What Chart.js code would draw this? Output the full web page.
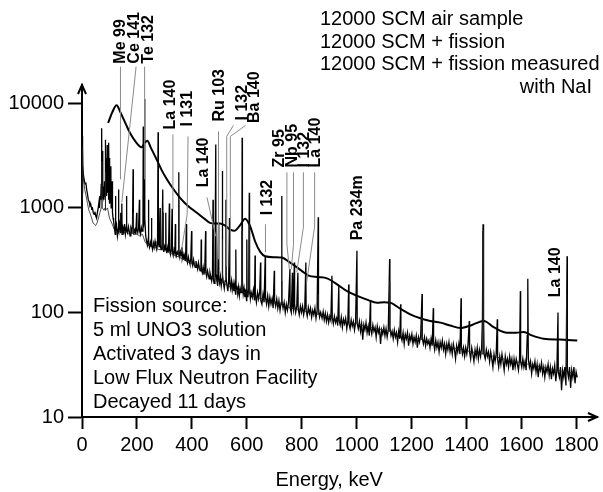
<!DOCTYPE html>
<html>
<head>
<meta charset="utf-8">
<script src="https://cdn.jsdelivr.net/npm/chart.js@4.4.1/dist/chart.umd.min.js"></script>
<style>
  body { margin: 0; background: #fff; }
  canvas { display: block; }
</style>
</head>
<body>
<canvas id="spectrumChart" width="603" height="492"></canvas>
<script>
// Gamma spectra, [energy keV, counts]
const airSample = [
    [0,1200],[2,3800],[5,1900],[10,1500],[15,1300],[20,1100],[25,950],[30,880],[35,800],[40,720],[45,700],[50,680],
    [55,720],[60,800],[65,900],[70,1000],[72,2800],[74,1000],[80,950],[84,1000],[85,2200],[86,950],[93,1000],[100,800],
    [110,700],[120,600],[130,580],[140,600],[150,560],[160,600],[170,560],[180,580],[185,570],[186,900],[187,560],
    [200,560],[210,540],[220,560],[230,470],[240,440],[250,430],[260,440],[270,410],[280,400],[290,400],[294,420],
    [295,900],[296,400],[310,380],[330,360],[351,340],[352,1200],[353,340],[370,320],[390,300],[410,285],[430,260],
    [450,240],[470,220],[490,205],[510,195],[511,500],[512,195],[530,180],[550,170],[570,160],[582,160],[583,600],
    [584,160],[600,150],[608,150],[609,700],[610,150],[630,140],[660,135],[690,125],[720,118],[726,118],[727,200],
    [728,118],[760,110],[800,104],[840,98],[859,96],[860,150],[861,96],[880,92],[910,90],[911,100],[912,88],[940,84],
    [970,80],[1000,78],[1050,72],[1100,68],[1119,66],[1120,200],[1121,66],[1150,62],[1200,58],[1237,55],[1238,90],
    [1239,55],[1260,53],[1300,50],[1350,46],[1400,43],[1459,40],[1460,600],[1461,40],[1500,38],[1550,35],[1600,33],
    [1650,31],[1700,29],[1763,27],[1764,150],[1765,27],[1800,26]
];

const fissionSample = [
    [0,1400],[1,4900],[3,2600],[5,2100],[8,1850],[11,1700],[14,1750],[17,1500],[20,1350],[23,1200],[26,1150],[29,1050],
    [32,1080],[35,980],[38,1000],[41,900],[44,870],[47,920],[50,840],[53,800],[56,900],[59,1000],[62,1150],[64,1000],
    [66,1300],[68,1200],[70,1700],[71,1200],[72,5800],[73,1400],[75,3500],[76,1300],[78,1600],[80,1200],[82,1800],
    [84,1300],[85,4500],[86,1500],[88,3000],[89,1300],[90,1600],[92,4000],[93,1400],[95,2600],[96,1200],[98,4200],
    [99,1300],[100,3000],[101,1100],[103,1300],[105,2500],[106,1000],[108,1100],[110,1800],[111,900],[113,800],[115,750],
    [118,640],[121,560],[122,1300],[123,600],[126,680],[129,540],[132,620],[133,1500],[134,600],[137,700],[140,580],
    [141,900],[142,620],[145,1100],[146,560],[149,650],[152,600],[155,700],[158,560],[161,640],[162,1300],[163,620],
    [166,580],[169,660],[172,600],[175,540],[178,640],[181,600],[184,700],[186,2350],[187,650],[190,580],[193,620],
    [196,560],[199,900],[200,620],[203,580],[206,640],[209,1200],[210,600],[213,560],[216,650],[219,600],[222,700],
    [223,6000],[224,650],[227,900],[228,11000],[229,800],[232,540],
    [235,480],[238,440],[241,500],[242,1200],[243,460],[246,420],[249,470],[252,430],[253,800],[254,440],[257,400],
    [260,460],[263,420],[266,480],[269,430],[272,400],[275,450],[277,5300],[278,480],[281,420],[284,1000],[285,440],
    [288,400],[291,450],[294,1500],[295,420],[298,380],[301,430],[304,400],[305,900],[306,410],
    [309,370],[312,420],[315,380],[318,1100],[319,400],[322,360],[325,410],[328,980],[329,380],[332,350],[335,400],
    [338,370],[340,700],[341,390],[344,350],[347,380],[350,360],[352,2200],[353,400],[356,340],[359,380],[362,350],
    [364,420],[365,330],
    [368,360],[371,320],[374,350],[377,310],[380,700],[381,330],[384,300],[387,340],[390,310],[393,290],[396,330],
    [399,600],[400,300],[403,280],[406,320],[409,290],[412,270],[415,310],[418,280],
    [421,260],[424,300],[427,270],[430,250],[433,280],[434,500],[435,260],[438,240],[441,270],[444,230],[447,260],
    [450,600],[451,240],[454,220],[457,250],[460,230],[463,210],[466,240],[469,220],[472,200],[475,230],[477,1200],
    [478,210],[481,190],[484,220],[487,4050],[488,230],[491,200],
    [494,180],[497,700],[498,210],[501,190],[504,220],[507,180],[510,210],[511,2250],[512,230],[515,190],[518,170],
    [521,200],[524,1200],[525,210],[528,180],[531,160],[534,200],[537,800],[538,190],[541,170],
    [544,200],[547,165],[550,190],[553,160],[556,185],[559,150],[560,400],[561,170],[564,180],[567,150],[570,175],
    [573,145],[576,170],[579,155],[582,180],[583,4700],[584,200],[587,150],[590,170],[593,140],[596,165],[599,130],
    [600,500],[601,160],[604,140],[607,170],[609,1400],[610,170],[613,135],[616,155],
    [620,140],[624,165],[628,130],[630,350],[631,150],[635,125],[639,155],[643,135],[647,160],[650,300],[651,130],
    [655,120],[659,150],[663,125],[667,340],[668,140],[672,120],[676,145],[680,115],[684,140],[688,120],[692,135],
    [696,110],[700,250],[701,130],[705,115],
    [709,135],[713,110],[717,130],[721,105],[725,125],[727,1300],[728,130],[732,110],[736,125],[740,100],[744,120],
    [748,105],[752,125],[757,260],[758,110],[762,100],[766,240],[767,115],[770,105],[773,300],[774,120],[778,100],
    [782,115],[786,240],[787,110],[791,95],[795,115],[799,100],
    [803,115],[807,95],[811,110],[815,300],[816,105],[820,92],[824,112],[828,98],[832,110],[836,90],[840,105],
    [844,95],[848,110],[852,88],[856,105],[860,815],[861,110],[865,90],[869,100],
    [874,88],[878,102],[882,85],[886,98],[890,82],[894,95],[898,80],[902,92],[906,84],[910,225],[911,90],[915,78],
    [919,92],[923,80],[927,88],[931,75],[935,180],[936,85],[940,76],[944,90],[948,72],[952,86],[956,78],[960,88],
    [964,70],[968,84],[971,185],[972,78],[976,70],[980,85],[984,74],[988,82],[992,68],[996,80],[1001,390],[1002,78],
    [1006,70],[1010,82],[1014,66],[1018,78],[1022,55],[1026,76],[1030,68],[1034,80],[1038,64],[1042,74],[1046,60],
    [1050,130],[1051,70],[1055,62],[1059,76],[1063,66],[1067,72],[1071,58],[1075,74],[1079,64],[1083,70],[1087,50],
    [1091,68],[1095,62],[1099,72],[1103,60],[1107,70],[1111,58],[1115,68],[1120,325],[1121,72],[1125,60],[1129,66],
    [1133,56],[1137,68],[1141,58],[1145,64],[1149,52],[1153,66],[1157,56],[1160,120],[1161,60],[1165,54],[1169,64],
    [1173,50],[1177,62],[1181,56],[1185,64],[1189,48],[1193,60],[1197,54],[1201,62],[1205,50],[1209,58],[1213,52],
    [1217,60],[1221,46],[1225,58],[1229,52],[1233,60],[1238,150],[1239,56],[1243,50],[1247,58],[1251,48],[1255,56],
    [1259,50],
    [1263,54],[1267,46],[1271,56],[1275,48],[1279,110],[1280,52],[1284,44],[1288,54],[1292,46],[1296,52],[1300,42],
    [1304,52],[1308,46],[1312,54],[1316,44],[1320,50],[1324,40],[1328,50],[1332,44],[1336,52],[1340,42],[1344,48],
    [1348,40],[1352,50],[1356,44],[1360,36],[1364,48],[1368,42],[1372,50],[1376,40],[1380,137],[1381,48],[1385,40],
    [1389,46],[1393,38],[1397,46],[1401,40],[1405,48],[1410,83],[1411,42],[1415,36],[1419,46],[1423,40],[1427,34],
    [1431,44],[1435,38],[1439,46],[1443,36],[1447,44],[1451,38],[1455,46],[1458,90],[1460,700],[1462,90],[1464,40],
    [1468,36],[1472,44],[1476,38],[1480,42],[1484,34],[1488,42],[1492,36],[1496,30],[1500,40],[1504,34],[1508,40],
    [1512,86],[1513,36],[1517,30],[1521,38],[1525,32],[1529,40],[1533,34],[1537,28],[1541,38],[1545,32],[1549,36],
    [1553,30],[1557,38],[1561,32],[1565,36],[1569,28],[1573,36],[1577,30],[1581,36],[1585,32],[1589,28],[1593,36],
    [1596,160],[1597,34],[1601,30],
    [1605,36],[1609,30],[1613,34],[1617,28],[1621,60],[1623,210],[1625,36],[1629,30],[1633,34],[1637,26],[1641,32],
    [1645,29],[1649,34],[1653,27],[1657,32],[1661,24],[1665,31],[1669,28],[1673,33],[1677,26],[1681,30],[1685,24],
    [1689,30],[1693,27],[1697,32],[1701,25],[1705,30],[1709,23],[1713,29],[1717,26],[1721,31],[1725,22],[1729,28],
    [1733,100],[1734,27],[1738,24],[1742,30],[1746,18],[1750,28],[1754,24],[1758,30],[1762,20],[1766,345],[1767,28],
    [1771,24],[1775,30],[1779,19],[1783,28],[1787,24],[1791,30],[1795,21],[1799,27],[1803,24]
];

const naiSample = [
    [95,6500],[110,8200],[126,9600],[140,8200],[160,6300],[175,5200],[195,4300],[217,3800],[228,4200],[238,4400],
    [250,3800],[272,2900],[290,2300],[309,1880],[330,1550],[357,1250],[385,1050],[418,900],[445,790],[466,720],
    [485,710],[503,710],[520,680],[540,620],[555,605],[575,680],[594,790],[612,670],[630,480],[649,380],[667,345],
    [700,338],[728,335],[750,310],[770,285],[800,250],[825,225],[860,218],[892,212],[930,185],[965,160],[1000,145],
    [1040,132],[1074,124],[1100,125],[1122,124],[1160,108],[1195,96],[1232,88],[1268,83],[1305,80],[1340,75],
    [1378,71],[1420,76],[1463,83],[1500,72],[1548,64],[1580,64],[1608,65],[1640,60],[1681,56],[1740,55],[1803,54]
];

const xTicks = [0, 200, 400, 600, 800, 1000, 1200, 1400, 1600, 1800];
const yTicks = [10, 100, 1000, 10000];

const legendLines = ['12000 SCM air sample', '12000 SCM + fission', '12000 SCM + fission measured', 'with NaI'];
const noteLines = ['Fission source:', '5 ml UNO3 solution', 'Activated 3 days in', 'Low Flux Neutron Facility', 'Decayed 11 days'];

// Peak labels: text, column (keV), text foot (counts), leader path [keV, counts]
const peakLabels = ['Me 99', 'Ce 141', 'Te 132', 'La 140', 'I 131', 'La 140', 'Ru 103', 'I 132', 'Ba 140',
    'I 132', 'Zr 95', 'Nb 95', 'I 132', 'La 140', 'Pa 234m', 'La 140'];
const labelKeV = [140, 191, 242, 322, 386, 441, 501, 583, 629, 674, 720, 765, 809, 849, 1004, 1724];
const labelFoot = [24000, 24000, 24000, 5640, 6020, 1573, 6710, 6870, 6500, 849, 2440, 2440, 2440, 2440, 490, 140];
const leaderPaths = [
    [[140, 22500], [140, 1875]],
    [[197, 22500], [145, 1130]],
    [[228, 22500], [228, 1875]],
    [[331, 5050], [331, 970]],
    [[386, 4830], [383, 870], [364, 421]],
    [[455, 1262], [487, 536]],
    [[497, 5400], [497, 323]],
    [[551, 6150], [527, 4830], [527, 277]],
    [[595, 6150], [540, 4830], [540, 277]],
    [[668, 697], [668, 377]],
    [[746, 2190], [746, 449], [755, 259]],
    [[770, 2190], [770, 449], [762, 259]],
    [[806, 2190], [806, 653], [782, 243]],
    [[847, 2190], [847, 671], [818, 195]],
    [],
    []
];

const FONT = '"Liberation Sans", Arial, sans-serif';

function toXY(pairs) {
    return pairs.map(p => ({ x: p[0], y: p[1] }));
}

const annotationPlugin = {
    id: 'annotations',
    afterDraw(chart) {
        const c = chart.ctx;
        const xs = chart.scales.x;
        const ys = chart.scales.y;
        const area = chart.chartArea;

        c.save();

        // leader lines
        c.strokeStyle = '#8a8a8a';
        c.lineWidth = 1;
        leaderPaths.forEach(path => {
            if (!path.length) return;
            c.beginPath();
            path.forEach((p, i) => {
                const px = xs.getPixelForValue(p[0]);
                const py = ys.getPixelForValue(p[1]);
                if (i === 0) c.moveTo(px, py); else c.lineTo(px, py);
            });
            c.stroke();
        });

        // rotated peak labels
        c.fillStyle = '#000';
        c.font = 'bold 16px ' + FONT;
        c.textAlign = 'left';
        c.textBaseline = 'middle';
        peakLabels.forEach((txt, i) => {
            c.save();
            c.translate(xs.getPixelForValue(labelKeV[i]), ys.getPixelForValue(labelFoot[i]));
            c.rotate(-Math.PI / 2);
            c.fillText(txt, 0, 0);
            c.restore();
        });

        // legend text
        c.font = '20px ' + FONT;
        c.textBaseline = 'alphabetic';
        legendLines.forEach((txt, i) => {
            if (i === legendLines.length - 1) {
                c.textAlign = 'right';
                c.fillText(txt, 592, 25 + i * 22.7);
            } else {
                c.textAlign = 'left';
                c.fillText(txt, 320, 25 + i * 22.7);
            }
        });

        // note
        c.textAlign = 'left';
        noteLines.forEach((txt, i) => {
            c.fillText(txt, 93, 312 + i * 24);
        });

        // axis title
        c.textAlign = 'center';
        c.fillText('Energy, keV', xs.getPixelForValue(900), 486);

        // arrow heads
        c.strokeStyle = '#000';
        c.lineWidth = 2;
        c.beginPath();
        c.moveTo(area.left - 4, area.top + 9);
        c.lineTo(area.left, area.top);
        c.lineTo(area.left + 4, area.top + 9);
        c.moveTo(area.right - 9, area.bottom - 4);
        c.lineTo(area.right, area.bottom);
        c.lineTo(area.right - 9, area.bottom + 4);
        c.stroke();

        c.restore();
    }
};

function setupSpectrumChart() {
    const ctx = document.getElementById('spectrumChart');
    if (!ctx) return;

    // eslint-disable-next-line no-new
    new Chart(ctx, {
        type: 'line',
        data: {
            datasets: [{
                label: legendLines[0],
                data: toXY(airSample),
                borderColor: '#222',
                borderWidth: 0.8,
                pointRadius: 0,
                tension: 0
            }, {
                label: legendLines[1],
                data: toXY(fissionSample),
                borderColor: '#000',
                borderWidth: 1.3,
                pointRadius: 0,
                tension: 0
            }, {
                label: legendLines[2] + ' ' + legendLines[3],
                data: toXY(naiSample),
                borderColor: '#000',
                borderWidth: 2,
                pointRadius: 0,
                cubicInterpolationMode: 'monotone'
            }]
        },
        options: {
            responsive: false,
            animation: false,
            layout: {
                padding: { top: 85, right: 6, left: 0, bottom: 0 }
            },
            plugins: {
                legend: { display: false },
                tooltip: { enabled: false }
            },
            scales: {
                x: {
                    type: 'linear',
                    min: 0,
                    max: 1875,
                    afterBuildTicks: scale => { scale.ticks = xTicks.map(v => ({ value: v })); },
                    afterFit: scale => { scale.height = 75; },
                    grid: {
                        drawOnChartArea: false,
                        tickLength: 12,
                        tickWidth: 2,
                        tickColor: '#000'
                    },
                    border: { color: '#000', width: 2 },
                    ticks: {
                        color: '#000',
                        font: { family: FONT, size: 20 },
                        padding: 4,
                        maxRotation: 0,
                        autoSkip: false,
                        callback: v => String(v)
                    }
                },
                y: {
                    type: 'logarithmic',
                    min: 10,
                    max: 15000,
                    afterBuildTicks: scale => { scale.ticks = yTicks.map(v => ({ value: v })); },
                    afterFit: scale => { scale.width = 82; },
                    grid: {
                        drawOnChartArea: false,
                        tickLength: 14,
                        tickWidth: 2,
                        tickColor: '#000'
                    },
                    border: { color: '#000', width: 2 },
                    ticks: {
                        color: '#000',
                        font: { family: FONT, size: 20 },
                        padding: 4,
                        autoSkip: false,
                        callback: v => String(v)
                    }
                }
            }
        },
        plugins: [annotationPlugin]
    });
}

setupSpectrumChart();
</script>
</body>
</html>
